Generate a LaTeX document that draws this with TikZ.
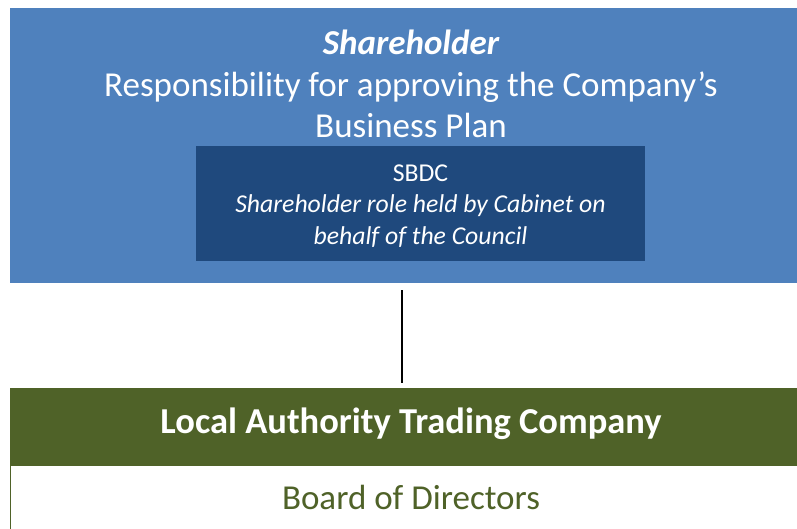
\documentclass[tikz,border=0pt]{standalone}
\usepackage{fontspec}
\setmainfont{Carlito}
\usepackage{tikz}
\usetikzlibrary{positioning, calc}
\definecolor{ownerblue}{HTML}{4F81BD}
\definecolor{cabinetblue}{HTML}{1F497D}
\definecolor{companygreen}{HTML}{4F6228}

\begin{document}
\begin{tikzpicture}[
    x=1pt, y=-1pt,
    every node/.style={text=white, align=center},
    panel/.style={rectangle, inner sep=0pt, anchor=north west},
    bigtext/.style={font=\fontsize{35}{41}\selectfont},
    smalltext/.style={font=\fontsize{25.7}{31.5}\selectfont}
]
    \useasboundingbox (0,0) rectangle (797,528);

    % Shareholder panel
    \node[panel, fill=ownerblue, minimum width=800pt, minimum height=275pt] (owner) at (10,8) {};
    \node[font=\fontsize{35}{41}\selectfont\bfseries\itshape] (ownertitle) at (411,42) {Shareholder};
    \node[bigtext] (ownerrole) at (411,105) {Responsibility for approving the Company’s\\Business Plan};

    % Cabinet box inside it
    \node[panel, fill=cabinetblue, minimum width=449pt, minimum height=115pt] (sbdc) at (196,146) {};
    \node[smalltext] (sbdctext) at (420.5,206) {SBDC\\\itshape Shareholder role held by Cabinet on\\\itshape behalf of the Council};

    % Trading company
    \node[panel, fill=companygreen, minimum width=800pt, minimum height=77pt] (latc) at (10,388) {};
    \node[font=\fontsize{36.5}{41}\selectfont\bfseries] (latctext) at (411,424) {Local Authority Trading Company};
    \node[panel, draw=companygreen, line width=1.2pt, fill=white, minimum width=800pt, minimum height=80pt] (board) at (10,465) {};
    \node[bigtext, text=companygreen] (boardtext) at (411,497) {Board of Directors};

    % Link between them
    \draw[line width=1.5pt, shorten <=7pt, shorten >=5pt] (owner.south -| 402,0) -- (latc.north -| 402,0);
\end{tikzpicture}
\end{document}
